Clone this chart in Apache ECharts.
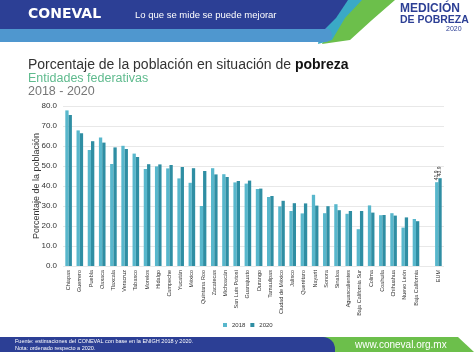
<!DOCTYPE html>
<html>
<head>
<meta charset="utf-8">
<script src="https://cdn.jsdelivr.net/npm/echarts@6/dist/echarts.min.js"></script>
<style>
  html, body { margin: 0; padding: 0; background: #fff; }
  #main { width: 474px; height: 352px; }
</style>
</head>
<body>
<div id="main"></div>
<script>
// entidades federativas, ordenado respecto a 2020
var estados = ['Chiapas', 'Guerrero', 'Puebla', 'Oaxaca', 'Tlaxcala', 'Veracruz', 'Tabasco', 'Morelos',
    'Hidalgo', 'Campeche', 'Yucatán', 'México', 'Quintana Roo', 'Zacatecas', 'Michoacán', 'San Luis Potosí',
    'Guanajuato', 'Durango', 'Tamaulipas', 'Ciudad de México', 'Jalisco', 'Querétaro', 'Nayarit', 'Sonora',
    'Sinaloa', 'Aguascalientes', 'Baja California Sur', 'Colima', 'Coahuila', 'Chihuahua', 'Nuevo León',
    'Baja California', '', 'EUM'];
var pobreza2018 = [77.8, 67.8, 58.0, 64.3, 51.0, 60.1, 56.2, 48.5, 49.8, 48.8, 43.8, 41.6, 30.0, 48.9, 45.9,
    41.8, 41.2, 38.5, 34.5, 29.8, 27.5, 26.3, 35.6, 26.4, 30.9, 26.1, 18.4, 30.3, 25.4, 26.4, 19.2, 23.5, '-', 41.9];
var pobreza2020 = [75.5, 66.4, 62.4, 61.7, 59.3, 58.5, 54.5, 50.9, 50.8, 50.5, 49.5, 48.9, 47.5, 45.8, 44.5,
    42.5, 42.7, 38.7, 35.0, 32.6, 31.4, 31.3, 30.2, 29.9, 27.9, 27.5, 27.5, 26.7, 25.5, 25.2, 24.3, 22.4, '-', 43.9];
var yMin = 0, yMax = 80, yStep = 10;

var chart = echarts.init(document.getElementById('main'));
var fuente = 'Liberation Sans, Arial, sans-serif';

function etiquetaEUM(p) {
    return p.name === 'EUM' ? p.value.toFixed(1) : '';
}

chart.setOption({
    animation: false,
    textStyle: { fontFamily: fuente },
    color: ['#58b7cc', '#2f8ea3'],
    graphic: [
        // encabezado
        { type: 'polygon', shape: { points: [[340, 0], [395, 0], [372, 20], [350, 40], [322, 44]] }, style: { fill: '#6cbf4b' } },
        { type: 'polygon', shape: { points: [[325, 0], [362, 0], [345, 18], [332, 40], [318, 44]] }, style: { fill: '#3aa9c6' } },
        { type: 'rect', shape: { x: 0, y: 28, width: 332, height: 14, r: [0, 7, 7, 0] }, style: { fill: '#4f97cf' } },
        { type: 'polygon', shape: { points: [[0, 0], [348, 0], [336, 18], [325, 29], [0, 29]] }, style: { fill: '#2c3f95' } },
        { type: 'text', left: 28, top: 7, style: { text: 'CONEVAL', fill: '#fff', font: 'bold 14px DejaVu Sans' } },
        { type: 'text', left: 135, top: 10, style: { text: 'Lo que se mide se puede mejorar', fill: '#fff', font: '9.5px ' + fuente } },
        { type: 'text', left: 400, top: 3, style: { text: 'MEDICIÓN', fill: '#2c3f95', font: 'bold 12px ' + fuente } },
        { type: 'text', left: 400, top: 15, style: { text: 'DE POBREZA', fill: '#2c3f95', font: 'bold 10.5px ' + fuente } },
        { type: 'text', left: 446, top: 26, style: { text: '2020', fill: '#2c3f95', font: '7px ' + fuente } },
        // titulos
        { type: 'text', left: 28, top: 58, style: { rich: { a: { fontSize: 14, fill: '#333', fontFamily: fuente }, b: { fontSize: 14, fill: '#111', fontWeight: 'bold', fontFamily: fuente } }, text: '{a|Porcentaje de la población en situación de }{b|pobreza}' } },
        { type: 'text', left: 28, top: 72, style: { text: 'Entidades federativas', fill: '#5fbb8e', font: '12.5px ' + fuente } },
        { type: 'text', left: 28, top: 85, style: { text: '2018 - 2020', fill: '#777', font: '12.5px ' + fuente } },
        // pie
        { type: 'polygon', shape: { points: [[320, 337], [458, 337], [474, 352], [335, 352]] }, style: { fill: '#6cbf4b' } },
        { type: 'rect', shape: { x: 0, y: 337, width: 335, height: 20, r: [0, 12, 0, 0] }, style: { fill: '#2c3f95' } },
        { type: 'text', left: 15, top: 338, style: { text: 'Fuente: estimaciones del CONEVAL con base en la ENIGH 2018 y 2020.', fill: '#fff', font: '5.5px ' + fuente } },
        { type: 'text', left: 15, top: 345, style: { text: 'Nota: ordenado respecto a 2020.', fill: '#fff', font: '5.5px ' + fuente } },
        { type: 'text', left: 355, top: 340, style: { text: 'www.coneval.org.mx', fill: '#fff', font: '10px ' + fuente } }
    ],
    legend: {
        left: 218, top: 317,
        itemWidth: 4, itemHeight: 4, itemGap: 5,
        icon: 'rect',
        textStyle: { fontSize: 6, color: '#333' },
        data: ['2018', '2020']
    },
    grid: { left: 63, right: 30, top: 106, bottom: 86, containLabel: false },
    xAxis: {
        type: 'category',
        data: estados,
        axisTick: { show: false },
        axisLine: { show: false },
        axisLabel: { rotate: 90, fontSize: 5.5, color: '#333', margin: 4, interval: 0 }
    },
    yAxis: {
        type: 'value',
        min: yMin, max: yMax, interval: yStep,
        name: 'Porcentaje de la población',
        nameLocation: 'middle',
        nameGap: 22,
        nameMoveOverlap: false,
        nameTextStyle: { fontSize: 9, color: '#333' },
        axisLabel: { fontSize: 8, color: '#333', margin: 6, formatter: function (v) { return v.toFixed(1); } },
        splitLine: { lineStyle: { color: '#e8e8e8' } }
    },
    series: [
        {
            name: '2018', type: 'bar', data: pobreza2018, barWidth: 3.3, barGap: '0%',
            label: { show: true, position: 'top', rotate: 90, align: 'left', verticalAlign: 'middle', distance: 2, fontSize: 5, color: '#333', formatter: etiquetaEUM }
        },
        {
            name: '2020', type: 'bar', data: pobreza2020, barWidth: 3.3,
            label: { show: true, position: 'top', rotate: 90, align: 'left', verticalAlign: 'middle', distance: 2, fontSize: 5, color: '#333', formatter: etiquetaEUM }
        }
    ]
});
</script>
</body>
</html>
